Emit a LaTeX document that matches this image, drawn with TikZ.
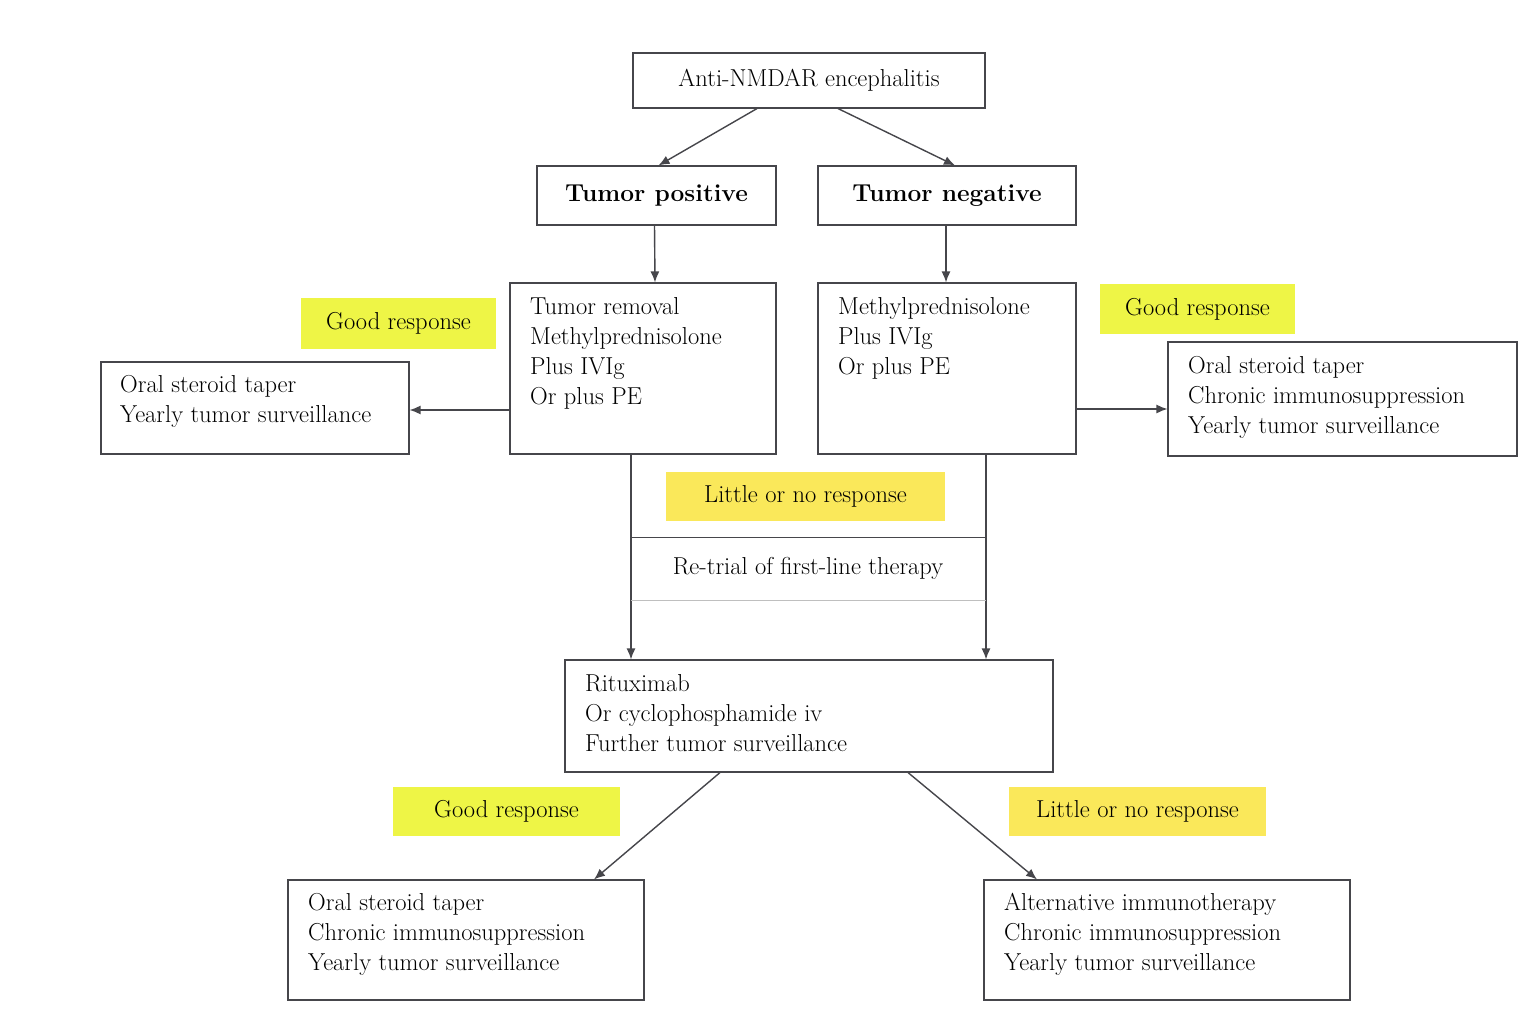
\documentclass[tikz,border=0pt]{standalone}
\usepackage{amsmath}
\usetikzlibrary{arrows.meta,calc}
\definecolor{goodyellow}{RGB}{238,245,70}
\definecolor{pooryellow}{RGB}{250,232,90}
\definecolor{boxline}{RGB}{70,70,75}
\begin{document}
\begin{tikzpicture}[x=1pt,y=-1pt,font=\fontsize{24.5}{30}\selectfont]

%
% Styles
%
\tikzstyle{stage} = [rectangle,draw=boxline,line width=1.1pt,inner sep=0pt]
\tikzstyle{txt} = [anchor=north west,align=left,inner sep=0pt]
\tikzstyle{tag} = [rectangle,inner sep=0pt]
\tikzstyle{link} = [draw=boxline,line width=1.4pt,-{Latex[length=11pt,width=9pt]}]

\useasboundingbox[fill=white] (0,0) rectangle (1536,1024);

\node[stage,minimum width=352,minimum height=55] (nmdar) at (809,80.5) {Anti-NMDAR encephalitis};
\node[stage,minimum width=239,minimum height=59] (tpos) at (656.5,195.5) {\bfseries Tumor positive};
\node[stage,minimum width=258,minimum height=59] (tneg) at (947,195.5) {\bfseries Tumor negative};

\node[stage,minimum width=266,minimum height=171] (tpt) at (643,368.5) {};
\node[txt] at (530,297) {Tumor removal\\Methylprednisolone\\Plus IVIg\\Or plus PE};
\node[stage,minimum width=258,minimum height=171] (tnt) at (947,368.5) {};
\node[txt] at (838,297) {Methylprednisolone\\Plus IVIg\\Or plus PE};

\node[stage,minimum width=308,minimum height=92] (lres) at (255,408) {};
\node[txt] at (120,375) {Oral steroid taper\\Yearly tumor surveillance};
\node[stage,minimum width=349,minimum height=114] (rres) at (1342.5,399) {};
\node[txt] at (1188,356) {Oral steroid taper\\Chronic immunosuppression\\Yearly tumor surveillance};

\node[tag,fill=goodyellow,minimum width=195,minimum height=51] (gl) at (398.5,323.5) {Good response};
\node[tag,fill=goodyellow,minimum width=195,minimum height=50] (gr) at (1197.5,309) {Good response};
\node[tag,fill=pooryellow,minimum width=279,minimum height=49] (lm) at (805.5,496.5) {Little or no response};
\node (retry) at (808,568) {Re-trial of first-line therapy};

\node[stage,minimum width=488,minimum height=112] (ritx) at (809,716) {};
\node[txt] at (585,674) {Rituximab\\Or cyclophosphamide iv\\Further tumor surveillance};

\node[tag,fill=goodyellow,minimum width=227,minimum height=49] (gb) at (506.5,811.5) {Good response};
\node[tag,fill=pooryellow,minimum width=257,minimum height=49] (lb) at (1137.5,811.5) {Little or no response};

\node[stage,minimum width=356,minimum height=120] (bl) at (466,940) {};
\node[txt] at (308,893) {Oral steroid taper\\Chronic immunosuppression\\Yearly tumor surveillance};
\node[stage,minimum width=366,minimum height=120] (br) at (1167,940) {};
\node[txt] at (1004,893) {Alternative immunotherapy\\Chronic immunosuppression\\Yearly tumor surveillance};

\draw[link] ([xshift=-52]nmdar.south) -- ([xshift=2]tpos.north);
\draw[link] ([xshift=29]nmdar.south) -- ([xshift=8]tneg.north);
\draw[link] ([xshift=-2]tpos.south) -- ([xshift=12]tpt.north);
\draw[link] ([xshift=-1]tneg.south) -- ([xshift=-1]tnt.north);
\draw[link] ([yshift=-41.5]tpt.west) -- ([yshift=-2]lres.east);
\draw[link] ([yshift=-40.5]tnt.east) -- ([yshift=-10]rres.west);
\draw[link] ([xshift=-12]tpt.south) -- ([xshift=-178]ritx.north);
\draw[link] ([xshift=39]tnt.south) -- ([xshift=177]ritx.north);
\draw[draw=boxline,line width=1.1pt] ([xshift=-12,yshift=-83]tpt.south) -- ([xshift=39,yshift=-83]tnt.south);
\draw[draw=gray!50,line width=1pt] ([xshift=-12,yshift=-146]tpt.south) -- ([xshift=39,yshift=-146]tnt.south);
\draw[link] ([xshift=-89]ritx.south) -- ([xshift=128]bl.north);
\draw[link] ([xshift=99]ritx.south) -- ([xshift=-130]br.north);

\end{tikzpicture}
\end{document}
